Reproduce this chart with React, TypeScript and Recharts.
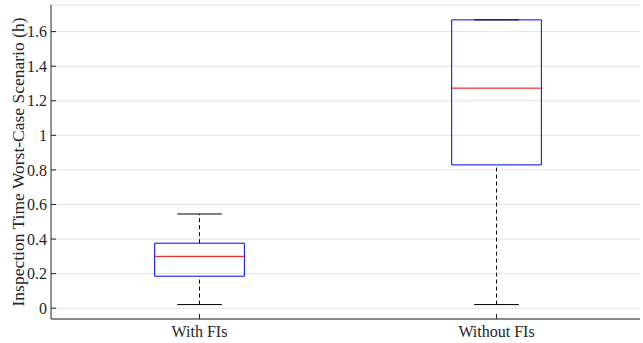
import React from 'react';
import {
  ComposedChart,
  XAxis,
  YAxis,
  CartesianGrid,
  ReferenceArea,
  ReferenceLine,
  Scatter,
} from 'recharts';

const categories = ['With FIs', 'Without FIs'];
const positions = [1, 2];
const upperWhisker = [0.545, 1.668];
const q3 = [0.376, 1.668];
const median = [0.3, 1.273];
const q1 = [0.185, 0.829];
const lowerWhisker = [0.021, 0.021];
const yTicks = [0, 0.2, 0.4, 0.6, 0.8, 1, 1.2, 1.4, 1.6];

const BOX_HALF = 0.151;
const CAP_HALF = 0.075;
const X_DOMAIN: [number, number] = [0.5, 2.483];
const Y_DOMAIN: [number, number] = [-0.0625, 1.754];

const rows = categories.map((name, i) => ({
  name,
  pos: positions[i],
  upper: upperWhisker[i],
  q3: q3[i],
  median: median[i],
  q1: q1[i],
  lower: lowerWhisker[i],
}));

const FONT = "'Liberation Serif', 'Times New Roman', serif";
const AXIS = '#262626';

export default function App() {
  return (
    <div style={{ position: 'absolute', left: 0, top: 0, background: '#fff' }}>
      <ComposedChart
        width={643}
        height={343}
        data={rows}
        margin={{ top: 5, right: 3, left: 0, bottom: 0 }}
      >
        <CartesianGrid horizontal vertical={false} stroke="#e3e3e3" />
        <XAxis
          dataKey="pos"
          type="number"
          domain={X_DOMAIN}
          ticks={positions}
          allowDataOverflow
          tickFormatter={(v: number) => categories[positions.indexOf(v)] ?? ''}
          height={24}
          tickSize={-5}
          tickMargin={12}
          stroke={AXIS}
          tick={{ fill: AXIS, fontSize: 16, fontFamily: FONT }}
        />
        <XAxis
          xAxisId="top"
          orientation="top"
          type="number"
          domain={X_DOMAIN}
          ticks={positions}
          allowDataOverflow
          height={0}
          tickSize={-5}
          tickFormatter={() => ''}
          stroke={AXIS}
        />
        <YAxis
          type="number"
          domain={Y_DOMAIN}
          ticks={yTicks}
          allowDataOverflow
          width={51}
          tickSize={-5}
          tickMargin={9}
          stroke={AXIS}
          tick={{ fill: AXIS, fontSize: 16, fontFamily: FONT }}
          label={{
            value: 'Inspection Time Worst-Case Scenario (h)',
            angle: -90,
            position: 'center',
            dx: -8,
            style: { fill: AXIS, fontSize: 17.5, fontFamily: FONT, textAnchor: 'middle' },
          }}
        />
        <YAxis
          yAxisId="right"
          orientation="right"
          type="number"
          domain={Y_DOMAIN}
          ticks={yTicks}
          allowDataOverflow
          width={0}
          tickSize={-5}
          tickFormatter={() => ''}
          stroke={AXIS}
        />
        {rows.map((r) => (
          <ReferenceLine
            key={`wu-${r.name}`}
            segment={[
              { x: r.pos, y: r.q3 },
              { x: r.pos, y: r.upper },
            ]}
            stroke="#000"
            strokeDasharray="4 3"
          />
        ))}
        {rows.map((r) => (
          <ReferenceLine
            key={`wl-${r.name}`}
            segment={[
              { x: r.pos, y: r.lower },
              { x: r.pos, y: r.q1 },
            ]}
            stroke="#000"
            strokeDasharray="4 3"
          />
        ))}
        {rows.map((r) => (
          <ReferenceLine
            key={`cu-${r.name}`}
            segment={[
              { x: r.pos - CAP_HALF, y: r.upper },
              { x: r.pos + CAP_HALF, y: r.upper },
            ]}
            stroke="#000"
          />
        ))}
        {rows.map((r) => (
          <ReferenceLine
            key={`cl-${r.name}`}
            segment={[
              { x: r.pos - CAP_HALF, y: r.lower },
              { x: r.pos + CAP_HALF, y: r.lower },
            ]}
            stroke="#000"
          />
        ))}
        {rows.map((r) => (
          <ReferenceArea
            key={`box-${r.name}`}
            x1={r.pos - BOX_HALF}
            x2={r.pos + BOX_HALF}
            y1={r.q1}
            y2={r.q3}
            fill="none"
            fillOpacity={0}
            stroke="#0000ff"
            strokeOpacity={1}
          />
        ))}
        {rows.map((r) => (
          <ReferenceLine
            key={`med-${r.name}`}
            segment={[
              { x: r.pos - BOX_HALF, y: r.median },
              { x: r.pos + BOX_HALF, y: r.median },
            ]}
            stroke="#ff0000"
          />
        ))}
        <Scatter dataKey="median" fill="none" shape={() => <g />} isAnimationActive={false} />
      </ComposedChart>
    </div>
  );
}
